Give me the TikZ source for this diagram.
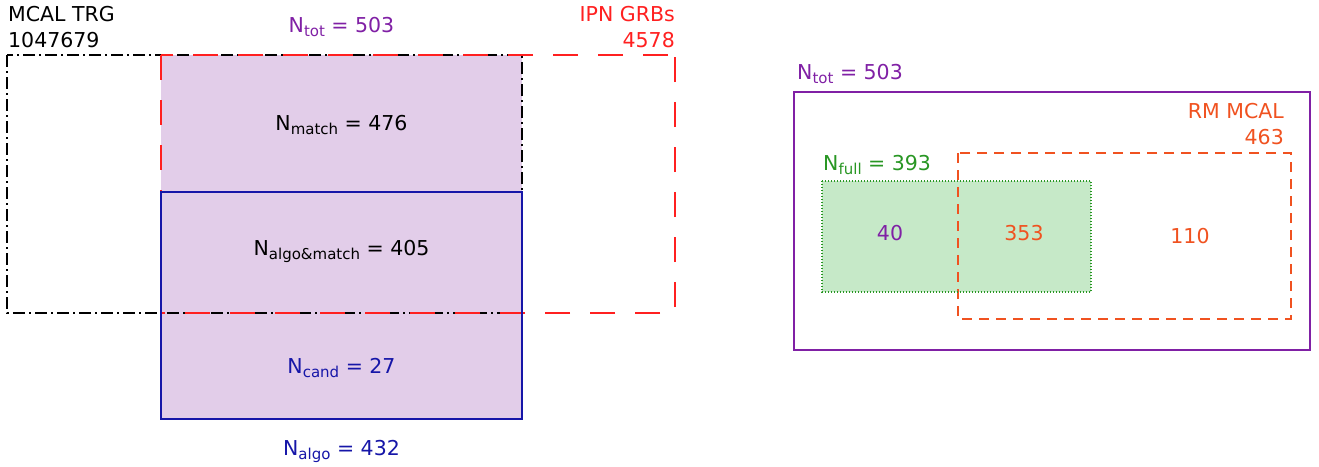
\documentclass[tikz,border=0pt]{standalone}
\usepackage{fontspec}
\setmainfont{DejaVu Sans}
\definecolor{setpurple}{RGB}{128,32,165}
\definecolor{setfill}{RGB}{226,205,233}
\definecolor{algoblue}{RGB}{22,22,168}
\definecolor{ipnred}{RGB}{255,32,32}
\definecolor{rmorange}{RGB}{240,82,32}
\definecolor{fullgreen}{RGB}{40,150,35}
\definecolor{fullfill}{RGB}{198,233,200}
\newcommand\lowsub[1]{\raisebox{-4.5pt}{\fontsize{15}{15}\selectfont #1}}
\tikzset{
  lbl/.style={inner sep=0pt, font=\fontsize{20.5}{26}\selectfont},
  trgline/.style={line width=2.1pt, dash pattern=on 12pt off 4pt on 2pt off 4pt},
  ipnline/.style={ipnred, line width=2.1pt, dash pattern=on 25pt off 20pt},
  algoline/.style={algoblue, line width=1.7pt},
  totline/.style={setpurple, line width=2pt},
  rmline/.style={rmorange, line width=1.9pt, dash pattern=on 10pt off 7pt},
  fullline/.style={fullgreen, line width=1.3pt, dash pattern=on 1.4pt off 1.6pt}
}
\begin{document}
\begin{tikzpicture}[x=1pt,y=-1pt]
\useasboundingbox (0,0) rectangle (1319,466);

% ---- left panel: trigger / IPN / algorithm sets ----
\coordinate (trgA) at (7,55);    \coordinate (trgB) at (522,313);
\coordinate (ipnA) at (161,55);  \coordinate (ipnB) at (675,313);
\coordinate (ipnC) at (675,55);  \coordinate (ipnD) at (161,313);
\coordinate (algA) at (161,192); \coordinate (algB) at (522,419);
\coordinate (totA) at (161,55);  \coordinate (totB) at (522,419);

\fill[setfill] (totA) rectangle (totB);
\draw[trgline] (trgA) rectangle (trgB);
% IPN box: each side dashed with its own phase
\draw[ipnline, dash phase=38pt] (ipnC) -- (ipnA);
\draw[ipnline, dash phase=0pt]  (ipnA) -- (ipnD);
\draw[ipnline, dash phase=30pt] (ipnB) -- (ipnD);
\draw[ipnline, dash phase=39pt] (ipnB) -- (ipnC);
\draw[algoline] (algA) rectangle (algB);

\node[lbl, anchor=base west] (trgname) at (8,21) {MCAL TRG};
\node[lbl, anchor=base west] (trgnum) at (8,47) {1047679};
\node[lbl, anchor=base east, text=ipnred] (ipnname) at (675,21) {IPN GRBs};
\node[lbl, anchor=base east, text=ipnred] (ipnnum) at (675,47) {4578};
\node[lbl, anchor=base, text=setpurple] (ntotL) at (341.5,32) {N\lowsub{tot} = 503};
\node[lbl, anchor=base] (nmatch) at (341.5,130) {N\lowsub{match} = 476};
\node[lbl, anchor=base] (nboth) at (341.5,255) {N\lowsub{algo\&match} = 405};
\node[lbl, anchor=base, text=algoblue] (ncand) at (341.5,373) {N\lowsub{cand} = 27};
\node[lbl, anchor=base, text=algoblue] (nalgo) at (341.5,455) {N\lowsub{algo} = 432};

% ---- right panel: full-light-curve / RM sets ----
\coordinate (allA) at (794,92);   \coordinate (allB) at (1310,350);
\coordinate (rmA) at (958,153);   \coordinate (rmB) at (1291,319);
\coordinate (fullA) at (822,181); \coordinate (fullB) at (1091,292);

\draw[totline] (allA) rectangle (allB);
\fill[fullfill] (fullA) rectangle (fullB);
\draw[rmline] (rmA) rectangle (rmB);
\draw[fullline] (fullA) rectangle (fullB);

\node[lbl, anchor=base west, text=setpurple] (ntotR) at (797,79) {N\lowsub{tot} = 503};
\node[lbl, anchor=base east, text=rmorange] (rmname) at (1284,118) {RM MCAL};
\node[lbl, anchor=base east, text=rmorange] (rmnum) at (1284,144) {463};
\node[lbl, anchor=base west, text=fullgreen] (nfull) at (823,170) {N\lowsub{full} = 393};
\node[lbl, anchor=base, text=setpurple] (onlyfull) at (890,240) {40};
\node[lbl, anchor=base, text=rmorange] (fullrm) at (1024,240) {353};
\node[lbl, anchor=base, text=rmorange] (onlyrm) at (1190,243) {110};
\end{tikzpicture}
\end{document}
